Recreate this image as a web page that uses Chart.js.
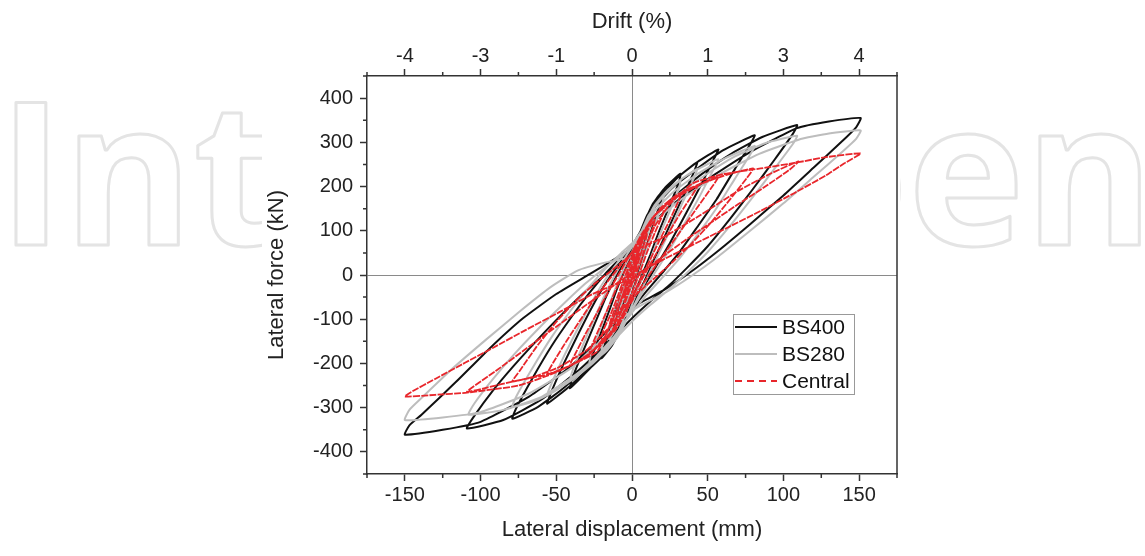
<!DOCTYPE html>
<html>
<head>
<meta charset="utf-8">
<script src="https://cdn.jsdelivr.net/npm/chart.js@4"></script>
<style>
  html, body { margin: 0; padding: 0; background: #fff; }
  #wrap { position: relative; width: 1145px; height: 556px; }
</style>
</head>
<body>
<div id="wrap"><canvas id="chart"></canvas></div>
<script>
// ---- Data (displacement mm, force kN) ----

var X_TICKS      = [-150, -100, -50, 0, 50, 100, 150];
var X_MINOR      = [-175, -125, -75, -25, 25, 75, 125, 175];
var DRIFT_LABELS = ["-4", "-3", "-1", "0", "1", "3", "4"];
var Y_TICKS      = [-400, -300, -200, -100, 0, 100, 200, 300, 400];
var Y_MINOR      = [-450, -350, -250, -150, -50, 50, 150, 250, 350, 450];

var SERIES_NAMES = ["BS400", "BS280", "Central"];
var WATERMARK    = "IntechOpen";

var BS400_PTS = [
  [0,0],[2,28],[5,62],[4,48],[2,22],[0,-5],[-2,-28],[-5,-60],[-4,-45],[-2,-18],[0,6],
  [3,45],[6,85],[10,128],[9,112],[6,75],[3,30],[0,-5],[-3,-45],[-6,-85],[-10,-124],[-9,-105],[-6,-65],[-3,-22],[0,12],
  [4,60],[8,105],[12,140],[15,165],[14,148],[10,100],[6,50],[2,5],[-2,-40],[-6,-90],[-10,-128],[-15,-158],[-14,-138],[-10,-92],[-6,-42],[-2,5],
  [2,40],[6,95],[11,140],[16,172],[21,192],[20,175],[15,125],[10,70],[6,25],[2,-20],[-3,-72],[-8,-122],[-13,-158],[-20,-188],[-19,-168],[-14,-118],[-9,-62],[-5,-15],[-1,25],
  [3,65],[8,118],[14,162],[22,198],[32,229],[31,210],[25,158],[18,100],[12,45],[7,3],[2,-40],[-3,-88],[-9,-135],[-17,-175],[-28,-211],[-27,-190],[-21,-135],[-15,-80],[-10,-32],[-5,10],[0,48],
  [5,90],[11,138],[19,180],[30,220],[43,255],[41,234],[34,180],[26,120],[18,60],[12,15],[6,-30],[0,-72],[-7,-115],[-15,-160],[-26,-205],[-41,-256],[-39,-230],[-32,-170],[-24,-105],[-17,-48],[-10,0],[-3,42],
  [4,85],[10,135],[18,175],[30,220],[43,255],[57,284],[54,262],[45,200],[35,135],[25,72],[16,20],[9,-20],[3,-55],[-5,-100],[-14,-150],[-26,-200],[-40,-248],[-56,-291],[-53,-262],[-45,-200],[-35,-130],[-26,-70],[-18,-22],[-10,18],[-2,55],
  [5,95],[13,145],[26,195],[42,238],[60,282],[81,316],[78,295],[68,240],[56,172],[43,108],[31,50],[20,5],[10,-35],[0,-78],[-12,-135],[-28,-200],[-46,-258],[-62,-298],[-79,-325],[-76,-298],[-66,-235],[-53,-160],[-40,-95],[-28,-40],[-17,5],[-7,40],[2,70],
  [12,120],[27,175],[46,228],[66,275],[86,312],[109,339],[106,318],[94,260],[80,195],[65,128],[50,65],[36,15],[24,-25],[12,-60],[0,-98],[-15,-150],[-35,-215],[-60,-282],[-85,-328],[-109,-347],[-104,-318],[-92,-262],[-78,-205],[-62,-145],[-46,-88],[-31,-38],[-18,0],[-7,30],[2,60],
  [12,112],[30,168],[55,228],[80,282],[109,332],[130,347],[151,355],[148,334],[138,300],[120,243],[100,180],[78,115],[57,55],[38,5],[22,-32],[8,-58],[-3,-80],[-18,-132],[-40,-205],[-68,-275],[-100,-332],[-125,-350],[-150,-361],[-147,-340],[-139,-316],[-116,-241],[-94,-166],[-72,-98],[-50,-43],[-28,2],[-12,35],[0,61]
];

var BS280_PTS = [
  [0,0],[2,25],[5,55],[4,42],[2,18],[0,-6],[-2,-26],[-5,-55],[-4,-40],[-2,-15],[0,6],
  [3,40],[6,78],[10,115],[9,98],[6,62],[3,22],[0,-10],[-3,-45],[-6,-80],[-10,-110],[-9,-92],[-6,-55],[-3,-15],[0,15],
  [4,58],[8,98],[12,128],[15,150],[14,132],[10,88],[6,40],[2,-2],[-2,-42],[-6,-86],[-10,-118],[-15,-145],[-14,-125],[-10,-82],[-6,-35],[-2,8],
  [3,50],[7,98],[12,138],[16,162],[21,180],[20,162],[15,115],[10,62],[6,18],[2,-25],[-3,-75],[-8,-120],[-13,-150],[-20,-172],[-19,-152],[-14,-105],[-9,-52],[-5,-8],[-1,30],
  [4,68],[9,118],[15,158],[23,190],[32,215],[31,196],[25,145],[18,88],[12,35],[7,-5],[2,-48],[-3,-95],[-9,-138],[-17,-172],[-28,-200],[-27,-178],[-21,-122],[-15,-68],[-10,-22],[-5,18],[0,52],
  [6,95],[12,140],[20,178],[30,210],[43,240],[41,220],[34,168],[26,108],[18,50],[12,8],[6,-36],[0,-78],[-7,-120],[-15,-162],[-26,-200],[-41,-240],[-39,-214],[-32,-155],[-24,-92],[-17,-38],[-10,8],[-3,48],
  [5,90],[11,135],[20,175],[32,215],[45,242],[57,262],[54,240],[45,180],[35,118],[25,58],[16,10],[9,-28],[3,-62],[-5,-106],[-14,-152],[-26,-198],[-40,-238],[-56,-272],[-53,-244],[-45,-184],[-35,-116],[-26,-58],[-18,-12],[-10,26],[-2,60],
  [6,98],[15,145],[28,190],[45,232],[62,265],[81,292],[78,272],[68,218],[56,152],[43,90],[31,36],[20,-6],[10,-44],[0,-85],[-12,-140],[-28,-200],[-46,-252],[-62,-282],[-79,-298],[-76,-272],[-66,-212],[-53,-140],[-40,-78],[-28,-26],[-17,16],[-7,50],[2,78],
  [13,125],[28,175],[48,225],[68,268],[88,298],[109,315],[106,295],[94,240],[80,177],[65,112],[50,52],[36,4],[24,-34],[12,-68],[0,-105],[-15,-158],[-35,-220],[-60,-276],[-85,-305],[-108,-316],[-104,-290],[-92,-236],[-78,-180],[-62,-122],[-46,-68],[-31,-20],[-18,16],[-7,44],[2,70],
  [14,118],[32,170],[58,228],[84,274],[110,306],[130,320],[151,327],[148,308],[138,276],[120,222],[100,162],[78,100],[57,42],[38,-5],[22,-40],[8,-65],[-3,-88],[-18,-140],[-40,-210],[-68,-268],[-100,-310],[-125,-322],[-150,-328],[-147,-305],[-138,-275],[-118,-210],[-96,-145],[-74,-82],[-54,-28],[-36,10],[-18,28],[0,40]
];

var CENTRAL_PTS = [
  [0,0],[2,22],[5,50],[4,36],[2,14],[0,-6],[-2,-25],[-5,-50],[-4,-35],[-2,-12],[0,6],
  [3,38],[6,68],[10,95],[9,80],[6,50],[3,18],[0,-10],[-3,-40],[-6,-68],[-10,-90],[-9,-74],[-6,-44],[-3,-12],[0,14],
  [4,52],[8,88],[12,110],[15,125],[14,110],[10,72],[6,32],[2,-4],[-2,-38],[-6,-76],[-10,-102],[-15,-120],[-14,-102],[-10,-66],[-6,-28],[-2,8],
  [3,45],[7,85],[12,118],[16,138],[21,150],[20,134],[15,95],[10,52],[6,14],[2,-22],[-3,-65],[-8,-102],[-13,-128],[-20,-145],[-19,-126],[-14,-88],[-9,-44],[-5,-6],[-1,26],
  [4,60],[9,102],[15,135],[23,162],[32,180],[30,162],[24,118],[17,70],[11,28],[6,-6],[1,-42],[-4,-84],[-10,-120],[-18,-150],[-28,-175],[-26,-155],[-20,-108],[-14,-60],[-9,-20],[-4,14],[0,42],
  [6,82],[12,122],[20,155],[30,182],[43,200],[40,182],[32,140],[24,94],[16,48],[10,12],[4,-26],[-2,-64],[-9,-104],[-17,-142],[-27,-175],[-41,-205],[-38,-182],[-31,-135],[-23,-85],[-16,-40],[-9,0],[-3,36],
  [5,78],[12,122],[22,158],[36,192],[57,222],[53,200],[43,152],[33,104],[23,56],[15,18],[8,-16],[2,-48],[-6,-92],[-15,-136],[-27,-176],[-40,-204],[-56,-225],[-52,-198],[-43,-148],[-33,-96],[-24,-50],[-15,-10],[-7,24],[0,52],
  [6,90],[15,135],[28,172],[45,205],[62,226],[80,241],[76,220],[65,172],[52,118],[39,70],[27,30],[16,-4],[6,-34],[-4,-68],[-15,-118],[-30,-170],[-48,-208],[-63,-228],[-79,-241],[-74,-216],[-63,-162],[-50,-106],[-37,-58],[-24,-18],[-12,14],[-2,42],
  [6,62],[19,82],[45,135],[70,190],[92,230],[110,257],[104,238],[88,200],[70,160],[52,118],[34,76],[18,36],[6,4],[-3,-30],[-12,-95],[-23,-173],[-41,-205],[-56,-225],[-79,-241],[-95,-254],[-109,-264],[-90,-217],[-70,-167],[-50,-117],[-30,-67],[-8,-14],[4,15],
  [8,55],[15,110],[25,160],[40,207],[60,228],[85,241],[110,255],[127,266],[151,275],[140,252],[128,225],[107,185],[85,145],[63,107],[40,68],[19,32],[6,8],[-3,-20],[-10,-80],[-18,-140],[-30,-185],[-50,-220],[-75,-250],[-109,-266],[-130,-271],[-150,-275],[-146,-265],[-130,-235],[-110,-198],[-92,-165],[-70,-124],[-48,-84],[-26,-43],[-10,-20],[-3,-14],[0,-5]
];

// ---- Style ----
var FONT = '"Liberation Sans", Arial, sans-serif';
var INK  = "#222";
var AXIS = "#333";

function pairs(arr) {
  return arr.map(function(p) { return { x: p[0], y: p[1] }; });
}

function setTicks(values) {
  return function(scale) {
    scale.ticks = values.map(function(v) { return { value: v }; });
  };
}

// watermark behind everything, then the white figure panel
var watermarkPlugin = {
  id: "watermark",
  beforeDraw: function(chart) {
    var c = chart.ctx;
    c.save();
    c.font = 'bold 200px "Open Sans"';
    var m = c.measureText(WATERMARK);
    var w = m.actualBoundingBoxLeft + m.actualBoundingBoxRight;
    var sx = (1140 - 15) / w;
    c.translate(15, 245);
    c.scale(sx, 1);
    c.translate(m.actualBoundingBoxLeft, 0);
    c.strokeStyle = "#e4e4e4";
    c.lineWidth = 3;
    c.lineJoin = "round";
    c.strokeText(WATERMARK, 0, 0);
    c.restore();
    c.fillStyle = "#fff";
    c.fillRect(262, 0, 638, chart.height);
  },
};

// minor ticks, right frame and the legend box
var framePlugin = {
  id: "frame",
  afterDraw: function(chart) {
    var c = chart.ctx, a = chart.chartArea;
    var sx = chart.scales.x, sy = chart.scales.y;
    c.save();
    c.strokeStyle = AXIS;
    c.lineWidth = 1.5;
    c.beginPath();
    c.moveTo(a.right, a.top);
    c.lineTo(a.right, a.bottom);
    X_MINOR.forEach(function(v) {
      var px = sx.getPixelForValue(v);
      c.moveTo(px, a.bottom); c.lineTo(px, a.bottom + 4);
      c.moveTo(px, a.top);    c.lineTo(px, a.top - 4);
    });
    Y_MINOR.forEach(function(v) {
      var py = sy.getPixelForValue(v);
      c.moveTo(a.left, py); c.lineTo(a.left - 4, py);
    });
    c.stroke();

    // legend
    var bx = a.left + 366, by = a.top + 238, bw = 121, bh = 80;
    c.fillStyle = "#fff";
    c.fillRect(bx, by, bw, bh);
    c.strokeStyle = "#999";
    c.lineWidth = 1;
    c.strokeRect(bx + 0.5, by + 0.5, bw, bh);
    c.font = "21px " + FONT;
    c.textBaseline = "middle";
    chart.data.datasets.forEach(function(ds, i) {
      var ry = by + 13 + i * 27;
      c.strokeStyle = ds.borderColor;
      c.lineWidth = 2.2;
      c.setLineDash(i === 2 ? [7, 5] : []);
      c.beginPath();
      c.moveTo(bx + 2, ry); c.lineTo(bx + 44, ry);
      c.stroke();
      c.setLineDash([]);
      c.fillStyle = "#111";
      c.fillText(ds.label, bx + 49, ry + 1);
    });
    c.restore();
  },
};

new Chart(document.getElementById("chart"), {
  type: "scatter",
  data: {
    datasets: [
      {
        label: SERIES_NAMES[0],
        data: pairs(BS400_PTS),
        showLine: true,
        borderColor: "#111111",
        borderWidth: 2,
        pointRadius: 0,
        tension: 0.15,
        order: 2,
      },
      {
        label: SERIES_NAMES[1],
        data: pairs(BS280_PTS),
        showLine: true,
        borderColor: "#bdbdbd",
        borderWidth: 2,
        pointRadius: 0,
        tension: 0.15,
        order: 1,
      },
      {
        label: SERIES_NAMES[2],
        data: pairs(CENTRAL_PTS),
        showLine: true,
        borderColor: "#e8262b",
        borderWidth: 1.8,
        borderDash: [7, 1.2],
        pointRadius: 0,
        tension: 0.15,
        order: 0,
      },
    ],
  },
  options: {
    responsive:          true,
    maintainAspectRatio: false,
    animation:           false,
    layout: { padding: { left: 262, right: 248, top: 0, bottom: 0 } },
    plugins: {
      legend:  { display: false },
      tooltip: { enabled: false },
    },
    scales: {
      x: {
        type: "linear",
        position: "bottom",
        min: -175, max: 175,
        afterBuildTicks: setTicks(X_TICKS),
        afterFit: function(s) { s.height = 82; },
        border: { color: AXIS, width: 1.5 },
        grid: {
          color: function(ctx) { return ctx.tick && ctx.tick.value === 0 ? "#8a8a8a" : "transparent"; },
          lineWidth: 1,
          tickColor: AXIS,
          tickWidth: 1.5,
          tickLength: 7,
        },
        ticks: { color: INK, font: { family: FONT, size: 20 }, padding: 2, maxRotation: 0 },
        title: {
          display: true,
          text: "Lateral displacement (mm)",
          color: INK,
          font: { family: FONT, size: 22 },
          padding: { top: 0, bottom: 13 },
        },
      },
      x2: {
        type: "linear",
        position: "top",
        min: -175, max: 175,
        afterBuildTicks: setTicks(X_TICKS),
        afterFit: function(s) { s.height = 76; },
        border: { color: AXIS, width: 1.5 },
        grid: { drawOnChartArea: false, tickColor: AXIS, tickWidth: 1.5, tickLength: 7 },
        ticks: {
          color: INK,
          font: { family: FONT, size: 20 },
          padding: 1,
          maxRotation: 0,
          callback: function(v, i) { return DRIFT_LABELS[i]; },
        },
        title: {
          display: true,
          text: "Drift (%)",
          color: INK,
          font: { family: FONT, size: 22 },
          padding: { top: 9, bottom: 0 },
        },
      },
      y: {
        type: "linear",
        position: "left",
        min: -450, max: 450,
        afterBuildTicks: setTicks(Y_TICKS),
        afterFit: function(s) { s.width = 105; },
        border: { color: AXIS, width: 1.5 },
        grid: {
          color: function(ctx) { return ctx.tick && ctx.tick.value === 0 ? "#8a8a8a" : "transparent"; },
          lineWidth: 1,
          tickColor: AXIS,
          tickWidth: 1.5,
          tickLength: 7,
        },
        ticks: { color: INK, font: { family: FONT, size: 20 }, padding: 7 },
        title: {
          display: true,
          text: "Lateral force (kN)",
          color: INK,
          font: { family: FONT, size: 22 },
          padding: { top: 2, bottom: 0 },
        },
      },
    },
  },
  plugins: [watermarkPlugin, framePlugin],
});
</script>
</body>
</html>
